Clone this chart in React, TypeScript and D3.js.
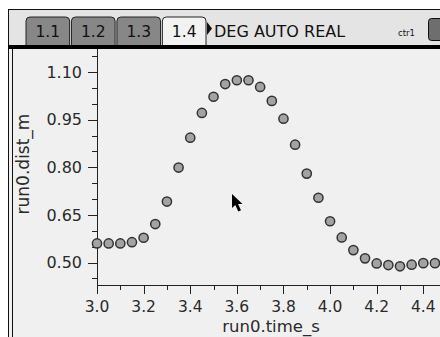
import React, { useRef, useEffect } from 'react';
import * as d3 from 'd3';

// run0.time_s samples (s)
const times = [
  3.0, 3.05, 3.1, 3.15, 3.2, 3.25, 3.3, 3.35, 3.4, 3.45,
  3.5, 3.55, 3.6, 3.65, 3.7, 3.75, 3.8, 3.85, 3.9, 3.95,
  4.0, 4.05, 4.1, 4.15, 4.2, 4.25, 4.3, 4.35, 4.4, 4.45,
];
// run0.dist_m values (m)
const dists = [
  0.56, 0.56, 0.56, 0.564, 0.578, 0.621, 0.692, 0.799, 0.893, 0.971,
  1.022, 1.062, 1.074, 1.074, 1.053, 1.009, 0.953, 0.871, 0.78, 0.704,
  0.63, 0.579, 0.539, 0.513, 0.497, 0.492, 0.488, 0.493, 0.498, 0.498,
];
const xTicks = [3.0, 3.2, 3.4, 3.6, 3.8, 4.0, 4.2, 4.4];
const yTicks = [0.5, 0.65, 0.8, 0.95, 1.1];
const tabs = ['1.1', '1.2', '1.3', '1.4'];

const W = 440;
const H = 337;
const FONT = '"DejaVu Sans", Verdana, sans-serif';

const App = () => {
  const ref = useRef<SVGSVGElement>(null);

  useEffect(() => {
    const svg = d3.select(ref.current);
    svg.selectAll('*').remove();

    const x = d3.scaleLinear().domain([3.0, 4.4]).range([97, 423.3]);
    const y = d3.scaleLinear().domain([0.5, 1.1]).range([262.5, 72]);
    const axisY = 285;
    const topY = 49;
    const axisX = 97;

    // page + plot background
    svg.append('rect').attr('width', W).attr('height', H).attr('fill', '#fff');
    svg.append('rect').attr('x', 8).attr('y', 9).attr('width', W - 8).attr('height', H - 9)
      .attr('fill', '#f0f0f0');
    svg.append('line').attr('x1', 8.5).attr('x2', 8.5).attr('y1', 9).attr('y2', H)
      .attr('stroke', '#111').attr('stroke-width', 1);
    svg.append('line').attr('x1', 12.5).attr('x2', 12.5).attr('y1', 49).attr('y2', H)
      .attr('stroke', '#111').attr('stroke-width', 1);

    // header bar
    const head = svg.append('g');
    head.append('rect').attr('x', 9).attr('y', 10).attr('width', W - 9).attr('height', 36)
      .attr('fill', '#e4e4e4');
    head.append('line').attr('x1', 8).attr('x2', W).attr('y1', 9.5).attr('y2', 9.5)
      .attr('stroke', '#111');
    const tabX = d3.scaleBand().domain(tabs).range([26, 206]).paddingInner(0.04);
    tabs.forEach((t, i) => {
      const x0 = tabX(t)!;
      const w = tabX.bandwidth();
      const r = 4;
      head.append('path')
        .attr('d', `M${x0},46 V${17 + r} Q${x0},17 ${x0 + r},17 H${x0 + w - r} Q${x0 + w},17 ${x0 + w},${17 + r} V46`)
        .attr('fill', i === 3 ? '#f2f2f2' : '#878787')
        .attr('stroke', '#222').attr('stroke-width', 1);
      head.append('text').attr('x', x0 + w / 2).attr('y', 37)
        .attr('text-anchor', 'middle').attr('font-family', FONT).attr('font-size', 15.5)
        .attr('fill', '#111').text(t);
    });
    head.append('path').attr('d', 'M207,22 L212,28.5 L207,35 Z').attr('fill', '#111');
    head.append('text').attr('x', 214).attr('y', 37).attr('font-family', FONT)
      .attr('font-size', 16).attr('fill', '#111').text('DEG AUTO REAL');
    head.append('text').attr('x', 398).attr('y', 36).attr('font-family', FONT)
      .attr('font-size', 8.5).attr('fill', '#111').text('ctr1');
    head.append('rect').attr('x', 428.5).attr('y', 18.5).attr('width', 16).attr('height', 22)
      .attr('rx', 3).attr('fill', '#6e6e6e').attr('stroke', '#111');
    svg.append('rect').attr('x', 8).attr('y', 45).attr('width', W - 8).attr('height', 4)
      .attr('fill', '#000');

    // axes
    const g = svg.append('g').attr('font-family', FONT).attr('fill', '#2a2a2a');
    g.append('line').attr('x1', axisX).attr('x2', W).attr('y1', axisY + 0.5).attr('y2', axisY + 0.5)
      .attr('stroke', '#222');
    g.append('line').attr('x1', axisX + 0.5).attr('x2', axisX + 0.5).attr('y1', topY).attr('y2', axisY)
      .attr('stroke', '#222');

    const xMinor = d3.range(3.0, 4.5, 0.1);
    xMinor.forEach(v => {
      const major = xTicks.some(t => Math.abs(t - v) < 1e-6);
      const px = Math.round(x(v)) + 0.5;
      g.append('line').attr('x1', px).attr('x2', px).attr('y1', axisY)
        .attr('y2', axisY + (major ? 9 : 5)).attr('stroke', '#222');
    });
    xTicks.forEach(v => {
      g.append('text').attr('x', x(v)).attr('y', axisY + 27).attr('text-anchor', 'middle')
        .attr('font-size', 15.5).text(v.toFixed(1));
    });

    const yMinor = d3.range(0.45, 1.16, 0.05);
    yMinor.forEach(v => {
      const major = yTicks.some(t => Math.abs(t - v) < 1e-6);
      const py = Math.round(y(v)) + 0.5;
      g.append('line').attr('x1', axisX - (major ? 9 : 5)).attr('x2', axisX).attr('y1', py)
        .attr('y2', py).attr('stroke', '#222');
    });
    yTicks.forEach(v => {
      g.append('text').attr('x', 82).attr('y', y(v)).attr('dy', '0.36em')
        .attr('text-anchor', 'end').attr('font-size', 16).text(v.toFixed(2));
    });

    g.append('text').attr('x', 271).attr('y', 332).attr('text-anchor', 'middle')
      .attr('font-size', 16.5).text('run0.time_s');
    g.append('text').attr('transform', 'translate(29,164) rotate(-90)')
      .attr('text-anchor', 'middle').attr('font-size', 17).text('run0.dist_m');

    // points
    svg.append('g').selectAll('circle')
      .data(times.map((t, i) => ({ t, d: dists[i] })))
      .join('circle')
      .attr('cx', p => x(p.t))
      .attr('cy', p => y(p.d))
      .attr('r', 4.6)
      .attr('fill', '#a3a3a3')
      .attr('stroke', '#333')
      .attr('stroke-width', 1.5);

    // mouse pointer
    svg.append('path')
      .attr('d', 'M232,194 L232,208 L235.3,205 L238.3,211.5 L241,210.3 L238,204 L242.5,204 Z')
      .attr('fill', '#000');
  }, []);

  return (
    <svg ref={ref} width={W} height={H}
      style={{ position: 'absolute', left: 0, top: 0, display: 'block' }} />
  );
};

export default App;
